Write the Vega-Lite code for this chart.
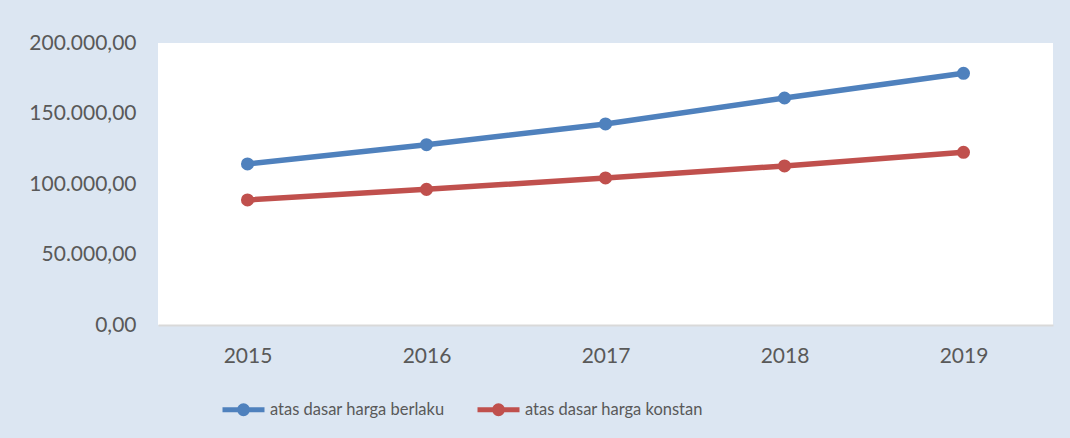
{
  "$schema": "https://vega.github.io/schema/vega-lite/v6.json",
  "autosize": {"type": "none"},
  "width": 895,
  "height": 282,
  "padding": {"left": 158, "top": 43, "right": 17, "bottom": 113},
  "background": "#dce6f2",
  "config": {
    "locale": {"number": {"decimal": ",", "thousands": ".", "grouping": [3], "currency": ["", ""]}},
    "view": {"fill": "white", "stroke": null},
    "font": "Lato"
  },
  "data": {
    "values": [
      {"tahun": "2015", "seri": "atas dasar harga berlaku", "nilai": 114200},
      {"tahun": "2016", "seri": "atas dasar harga berlaku", "nilai": 127900},
      {"tahun": "2017", "seri": "atas dasar harga berlaku", "nilai": 142600},
      {"tahun": "2018", "seri": "atas dasar harga berlaku", "nilai": 161000},
      {"tahun": "2019", "seri": "atas dasar harga berlaku", "nilai": 178500},
      {"tahun": "2015", "seri": "atas dasar harga konstan", "nilai": 88700},
      {"tahun": "2016", "seri": "atas dasar harga konstan", "nilai": 96200},
      {"tahun": "2017", "seri": "atas dasar harga konstan", "nilai": 104300},
      {"tahun": "2018", "seri": "atas dasar harga konstan", "nilai": 112800},
      {"tahun": "2019", "seri": "atas dasar harga konstan", "nilai": 122500}
    ]
  },
  "mark": {"type": "line", "strokeWidth": 5.5, "point": {"filled": true, "size": 170, "opacity": 1}},
  "encoding": {
    "x": {
      "field": "tahun",
      "type": "ordinal",
      "scale": {"type": "point", "padding": 0.5},
      "axis": {
        "title": null,
        "labelAngle": 0,
        "ticks": false,
        "domainColor": "#d9d9d9",
        "domainWidth": 2,
        "labelColor": "#595959",
        "labelFontSize": 21,
        "labelPadding": 20,
        "labelFont": "Lato",
        "grid": false
      }
    },
    "y": {
      "field": "nilai",
      "type": "quantitative",
      "scale": {"domain": [0, 200000], "nice": false},
      "axis": {
        "title": null,
        "values": [0, 50000, 100000, 150000, 200000],
        "format": ",.2f",
        "ticks": false,
        "domain": false,
        "grid": false,
        "labelColor": "#595959",
        "labelFontSize": 21,
        "labelPadding": 22,
        "labelFont": "Lato"
      }
    },
    "color": {
      "field": "seri",
      "type": "nominal",
      "scale": {"domain": ["atas dasar harga berlaku", "atas dasar harga konstan"], "range": ["#4f81bd", "#c0504d"]},
      "legend": {
        "title": null,
        "orient": "none",
        "direction": "horizontal",
        "legendX": 62,
        "legendY": 343,
        "symbolType": "M-1,0L1,0M0.19,0A0.19,0.19,0,1,1,-0.19,0A0.19,0.19,0,1,1,0.19,0Z",
        "symbolSize": 1764,
        "symbolStrokeWidth": 5,
        "symbolOpacity": 1,
        "labelFontSize": 16.5,
        "labelLimit": 0,
        "labelColor": "#595959",
        "labelFont": "Lato",
        "labelOffset": 3,
        "columnPadding": 22
      }
    }
  }
}
